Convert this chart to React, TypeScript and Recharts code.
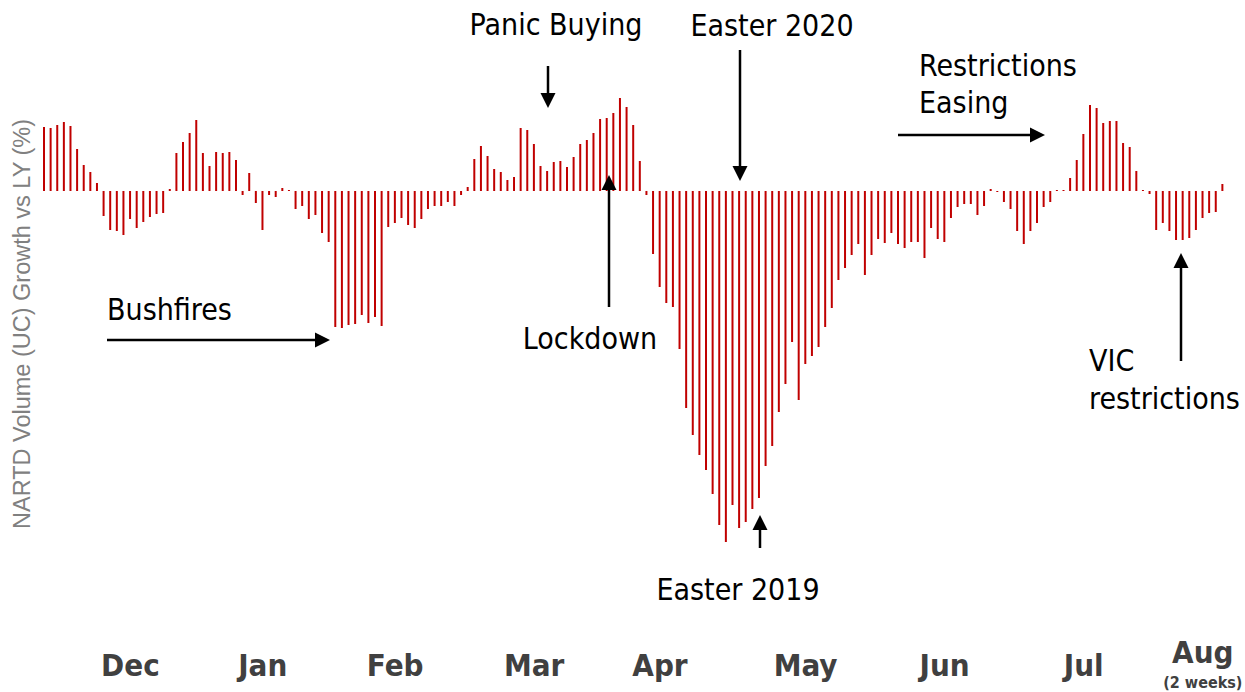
import React from 'react';
import { BarChart, Bar, XAxis, YAxis } from 'recharts';

// Daily NARTD volume growth vs last year (%), Dec -> mid Aug
const growthValues: number[] = [
  6.4, 6.3, 6.6, 6.9, 6.5, 4.2, 2.6, 1.9, 0.8, -2.5,
  -3.9, -4.0, -4.4, -2.8, -3.7, -3.1, -2.6, -2.3, -2.2, 0.2,
  3.8, 4.9, 5.8, 7.1, 3.8, 2.5, 3.9, 3.8, 3.9, 3.1,
  -0.4, 1.8, -1.2, -3.9, -0.4, -0.6, 0.3, 0.1, -1.8, -1.5,
  -2.8, -2.4, -4.2, -5.1, -13.6, -13.7, -13.4, -13.3, -12.4, -13.2,
  -12.6, -13.5, -3.6, -3.2, -2.7, -3.4, -3.7, -2.8, -1.8, -1.5,
  -1.5, -1.1, -1.5, -0.4, 0.4, 3.2, 4.5, 3.5, 2.2, 1.9,
  1.1, 1.4, 6.3, 6.1, 4.7, 2.5, 2.0, 2.9, 3.0, 2.4,
  3.4, 4.7, 5.1, 5.8, 7.2, 7.3, 7.8, 9.3, 8.4, 6.6,
  3.0, -0.4, -6.3, -9.6, -11.2, -11.6, -15.8, -21.7, -24.4, -26.4,
  -27.9, -30.3, -33.4, -35.1, -31.4, -33.7, -33.1, -31.8, -30.7, -27.5,
  -25.5, -22.1, -19.3, -15.1, -20.9, -17.3, -16.5, -15.6, -13.6, -11.7,
  -8.9, -7.7, -6.4, -5.3, -8.4, -6.4, -4.8, -5.2, -4.2, -5.3,
  -5.7, -5.1, -5.1, -6.7, -3.7, -4.8, -5.1, -2.7, -1.6, -1.3,
  -1.3, -2.4, -1.5, 0.2, -0.1, -1.1, -1.8, -4.0, -5.3, -4.0,
  -3.2, -1.6, -1.1, 0.1, 0.1, 1.3, 3.1, 5.7, 8.6, 8.3,
  6.8, 7.0, 7.0, 4.8, 4.4, 2.0, 0.1, -0.3, -3.9, -3.2,
  -4.0, -4.9, -4.9, -4.7, -3.9, -2.7, -2.2, -2.1, 0.7,
];

const dayNumbers: number[] = growthValues.map((_, i) => i + 1);

const monthLabels: string[] = ['Dec', 'Jan', 'Feb', 'Mar', 'Apr', 'May', 'Jun', 'Jul', 'Aug'];
const monthTickDays: number[] = [14, 34, 54, 75, 94, 116, 137, 158, 176];
const monthSubLabels: string[] = ['', '', '', '', '', '', '', '', '(2 weeks)'];

const yAxisTitle = 'NARTD Volume (UC) Growth vs LY (%)';

const data = dayNumbers.map((d, i) => ({ day: d, growth: growthValues[i] }));

const ANNOT_FONT = "'DejaVu Sans Condensed', 'DejaVu Sans', sans-serif";

const MonthTick = (props: any) => {
  const { x, payload } = props;
  const idx = monthTickDays.indexOf(payload.value);
  if (idx < 0) return null;
  const sub = monthSubLabels[idx];
  return (
    <g>
      <text
        x={x}
        y={sub ? 663 : 676}
        textAnchor="middle"
        fontFamily={ANNOT_FONT}
        fontStretch="condensed"
        fontWeight="bold"
        fontSize={31}
        fill="#404040"
      >
        {monthLabels[idx]}
      </text>
      {sub ? (
        <text
          x={x}
          y={688}
          textAnchor="middle"
          fontFamily={ANNOT_FONT}
          fontStretch="condensed"
          fontWeight="bold"
          fontSize={16}
          fill="#404040"
        >
          {sub}
        </text>
      ) : null}
    </g>
  );
};

type Arrow = { x1: number; y1: number; x2: number; y2: number };
const arrows: Arrow[] = [
  { x1: 548, y1: 66, x2: 548, y2: 108 },
  { x1: 740, y1: 50, x2: 740, y2: 181 },
  { x1: 898, y1: 135, x2: 1045, y2: 135 },
  { x1: 107, y1: 340, x2: 330, y2: 340 },
  { x1: 609, y1: 307, x2: 609, y2: 175 },
  { x1: 760, y1: 548, x2: 760, y2: 515 },
  { x1: 1181, y1: 361, x2: 1181, y2: 253 },
];

type Note = { text: string; x: number; y: number; anchor: 'start' | 'middle' };
const notes: Note[] = [
  { text: 'Panic Buying', x: 556, y: 35, anchor: 'middle' },
  { text: 'Easter 2020', x: 772, y: 36, anchor: 'middle' },
  { text: 'Restrictions', x: 919, y: 76, anchor: 'start' },
  { text: 'Easing', x: 919, y: 113, anchor: 'start' },
  { text: 'Bushfires', x: 107, y: 320, anchor: 'start' },
  { text: 'Lockdown', x: 590, y: 349, anchor: 'middle' },
  { text: 'Easter 2019', x: 738, y: 600, anchor: 'middle' },
  { text: 'VIC', x: 1089, y: 371, anchor: 'start' },
  { text: 'restrictions', x: 1089, y: 409, anchor: 'start' },
];

const ArrowShape = ({ a }: { a: Arrow }) => {
  const dx = a.x2 - a.x1;
  const dy = a.y2 - a.y1;
  const len = Math.sqrt(dx * dx + dy * dy);
  const ux = dx / len;
  const uy = dy / len;
  const headLen = 15;
  const headHalf = 7.5;
  const bx = a.x2 - ux * headLen;
  const by = a.y2 - uy * headLen;
  const px = -uy * headHalf;
  const py = ux * headHalf;
  return (
    <g>
      <line x1={a.x1} y1={a.y1} x2={bx} y2={by} stroke="#000" strokeWidth={2.5} />
      <polygon
        points={`${a.x2},${a.y2} ${bx + px},${by + py} ${bx - px},${by - py}`}
        fill="#000"
      />
    </g>
  );
};

export default function App() {
  return (
    <div style={{ position: 'absolute', left: 0, top: 0, width: 1245, height: 692, background: '#fff' }}>
      <BarChart
        width={1245}
        height={692}
        data={data}
        margin={{ top: 71, right: 19, bottom: 71, left: 41 }}
        barCategoryGap={0}
      >
        <XAxis
          dataKey="day"
          ticks={monthTickDays}
          interval={0}
          axisLine={false}
          tickLine={false}
          height={30}
          tick={<MonthTick />}
        />
        <YAxis hide domain={[-40, 12]} allowDataOverflow />
        <Bar dataKey="growth" fill="#C00000" barSize={2} isAnimationActive={false} />
      </BarChart>
      <svg
        width={1245}
        height={692}
        style={{ position: 'absolute', left: 0, top: 0, pointerEvents: 'none' }}
      >
        <text
          x={30}
          y={324}
          transform="rotate(-90, 30, 324)"
          textAnchor="middle"
          fontFamily="'Liberation Sans', Arial, sans-serif"
          fontSize={23.5}
          fill="#808080"
        >
          {yAxisTitle}
        </text>
        {notes.map((n, i) => (
          <text
            key={i}
            x={n.x}
            y={n.y}
            textAnchor={n.anchor}
            fontFamily={ANNOT_FONT}
            fontStretch="condensed"
            fontSize={30}
            fill="#000"
          >
            {n.text}
          </text>
        ))}
        {arrows.map((a, i) => (
          <ArrowShape key={i} a={a} />
        ))}
      </svg>
    </div>
  );
}
